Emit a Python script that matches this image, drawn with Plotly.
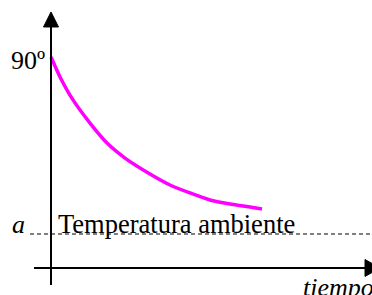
import plotly.graph_objects as go

# Cooling curve (time vs temperature)
tiempo = [0, 0.9, 2.2, 3.9, 5.6, 7.4, 9.9, 11.9, 13.9, 15.9, 17.9, 19.9, 21.1]
temperatura = [90.0, 81.5, 71.7, 61.8, 53.3, 46.9, 40.1, 35.4, 32.0, 29.0, 27.3, 26.0, 25.2]
t_ambiente = 14.5
t_inicial = 90

X_MIN, X_MAX = -5.1, 32.1
Y_MIN, Y_MAX = -11.52, 114.31

FONT = "Liberation Serif"

fig = go.Figure()

fig.add_trace(go.Scatter(
    x=tiempo, y=temperatura, mode="lines",
    line=dict(color="#ff00ff", width=3.5, shape="spline", smoothing=0.5),
    hoverinfo="skip", showlegend=False,
))

shapes = [
    dict(type="line", x0=0, x1=0, y0=-7.25, y1=104, line=dict(color="black", width=2)),
    dict(type="line", x0=-1.7, x1=31.6, y0=0, y1=0, line=dict(color="black", width=2)),
    dict(type="line", x0=-2.1, x1=X_MAX, y0=t_ambiente, y1=t_ambiente,
         line=dict(color="black", width=1, dash="4px,3px")),
    dict(type="path", path="M -0.75 102.8 L 0.75 102.8 L 0 109.2 Z",
         fillcolor="black", line=dict(color="black", width=1)),
    dict(type="path", path="M 31.4 -3.6 L 31.4 3.6 L 32.9 0 Z",
         fillcolor="black", line=dict(color="black", width=1)),
]

annotations = [
    dict(x=-0.4, y=88.7, text="90º", showarrow=False, xanchor="right", yanchor="middle",
         font=dict(family=FONT, size=26, color="black")),
    dict(x=0.5, y=t_ambiente, text="Temperatura ambiente", showarrow=False,
         xanchor="left", yanchor="bottom", yshift=-7,
         font=dict(family=FONT, size=26.5, color="black")),
    dict(x=-2.4, y=t_ambiente, text="<i>a</i>", showarrow=False,
         xanchor="right", yanchor="bottom", yshift=-7,
         font=dict(family=FONT, size=26, color="black")),
    dict(x=X_MAX, y=Y_MIN, text="<i>tiempo</i>", showarrow=False,
         xanchor="right", yanchor="top", yshift=24, xshift=4,
         font=dict(family=FONT, size=26, color="black")),
]

fig.update_layout(
    width=372, height=295,
    margin=dict(l=0, r=0, t=0, b=0),
    paper_bgcolor="white", plot_bgcolor="white",
    xaxis=dict(range=[X_MIN, X_MAX], visible=False, fixedrange=True),
    yaxis=dict(range=[Y_MIN, Y_MAX], visible=False, fixedrange=True),
    shapes=shapes, annotations=annotations,
    hovermode=False,
)

fig.write_html("out.html", config={"displayModeBar": False},
               post_script="document.body.style.margin='0';document.body.style.overflow='hidden';")
